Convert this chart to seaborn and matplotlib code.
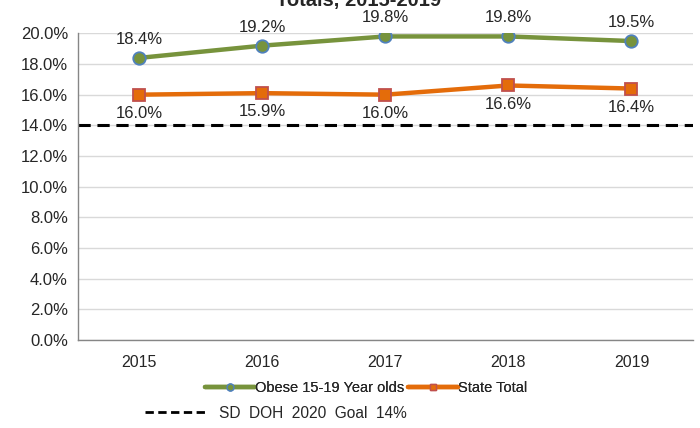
import pandas as pd
import matplotlib.pyplot as plt
import seaborn as sns
from matplotlib.lines import Line2D
from matplotlib.ticker import MultipleLocator, FuncFormatter

# data
years = ['2015', '2016', '2017', '2018', '2019']
obese_teens = [18.4, 19.2, 19.8, 19.8, 19.5]
obese_teens_labels = ['18.4%', '19.2%', '19.8%', '19.8%', '19.5%']
state_total = [16.0, 16.1, 16.0, 16.6, 16.4]
state_total_labels = ['16.0%', '15.9%', '16.0%', '16.6%', '16.4%']
goal = 14.0

sns.set_style('white')
plt.rcParams['font.family'] = ['Liberation Sans', 'DejaVu Sans']

green = '#77933C'
orange = '#E46C0A'

df = pd.DataFrame({'Year': years, 'Obese': obese_teens, 'State': state_total})
df['pos'] = range(len(years))

fig = plt.figure(figsize=(7, 4.28), dpi=100)
ax = fig.add_axes([0.111, 0.206, 0.879, 0.716])

ax.axhline(goal, color='black', linestyle=(0, (4, 2.2)), linewidth=2.2, zorder=1)

sns.lineplot(data=df, x='pos', y='Obese', ax=ax, color=green, linewidth=3.2,
             marker='o', markersize=9, markerfacecolor=green,
             markeredgecolor='#4F81BD', markeredgewidth=1.3, zorder=3)
sns.lineplot(data=df, x='pos', y='State', ax=ax, color=orange, linewidth=3.2,
             marker='s', markersize=9, markerfacecolor=orange,
             markeredgecolor='#C0504D', markeredgewidth=1.3, zorder=3)

for i in range(len(years)):
    ax.annotate(obese_teens_labels[i], (i, obese_teens[i]), xytext=(0, 8),
                textcoords='offset points', ha='center', va='bottom', fontsize=12)
    ax.annotate(state_total_labels[i], (i, state_total[i]), xytext=(0, -8),
                textcoords='offset points', ha='center', va='top', fontsize=12)

ax.set_xlim(-0.5, 4.5)
ax.set_ylim(0, 20)
ax.yaxis.set_major_locator(MultipleLocator(2))
ax.yaxis.set_major_formatter(FuncFormatter(lambda v, p: f'{v:.1f}%'))
ax.set_xticks(range(len(years)))
ax.set_xticklabels(years, fontsize=11.5)
ax.set_xticks([i + 0.5 for i in range(-1, len(years))], minor=True)
ax.tick_params(axis='x', which='major', length=0, pad=11)
ax.tick_params(axis='x', which='minor', length=5, color='#868686', width=1)
ax.tick_params(axis='y', length=5, color='#868686', width=1, labelsize=12, pad=2)
ax.set_xlabel('')
ax.set_ylabel('')
ax.grid(axis='y', color='#D9D9D9', linewidth=1)
ax.set_axisbelow(True)
for s in ['top', 'right']:
    ax.spines[s].set_visible(False)
for s in ['left', 'bottom']:
    ax.spines[s].set_color('#868686')
    ax.spines[s].set_linewidth(1)

# title sits partly above the top edge, as in the source image
fig.text(0.512, 1 - 6 / 428, 'Totals, 2015-2019', ha='center', va='baseline',
         fontsize=14.5, fontweight='bold')

handles = [
    Line2D([], [], color=green, linewidth=3.2, marker='o', markersize=5,
           markerfacecolor=green, markeredgecolor='#4F81BD'),
    Line2D([], [], color=orange, linewidth=3.2, marker='s', markersize=5,
           markerfacecolor=orange, markeredgecolor='#C0504D'),
]
leg1 = fig.legend(handles, ['Obese 15-19 Year olds', 'State Total'], loc='center',
                  bbox_to_anchor=(0.523, 1 - 388 / 428), ncol=2, frameon=False,
                  handlelength=3.4, handletextpad=0.0, columnspacing=0.3,
                  prop={'size': 10.5})
fig.add_artist(leg1)
goal_handle = Line2D([], [], color='black', linestyle=(0, (3, 1.6)), linewidth=2)
fig.legend([goal_handle], ['SD  DOH  2020  Goal  14%'], loc='center',
           bbox_to_anchor=(0.394, 1 - 413 / 428), frameon=False,
           handlelength=3.9, handletextpad=0.9,
           prop={'size': 11.2})

fig.savefig('out.png', dpi=100)
